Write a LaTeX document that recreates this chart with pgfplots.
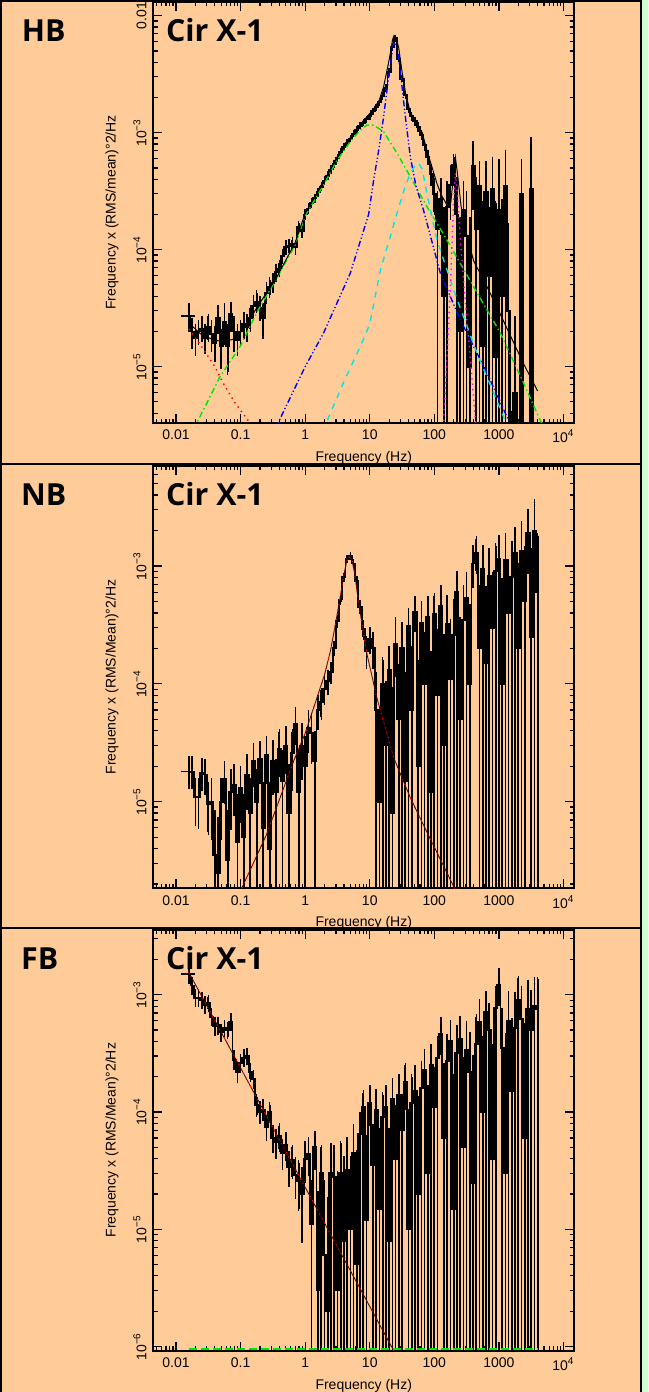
\documentclass[border=0pt]{standalone}
\usepackage{pgfplots}
\usepackage{pgfplotstable}
\pgfplotsset{compat=1.18}
\usepackage{fontspec}
\setmainfont{Liberation Sans}
\newfontfamily\titlefont{Open Sans}
\definecolor{peach}{RGB}{255,204,153}
\definecolor{pgreen}{RGB}{204,255,204}
\definecolor{cgreen}{RGB}{0,230,0}
\definecolor{ccyan}{RGB}{0,230,230}
\definecolor{cmag}{RGB}{255,0,255}

\pgfplotstableread{
f y lo hi
0.0158 2.7e-5 2.1e-5 3.3e-5
0.0178 2.0e-5 1.5e-5 2.5e-5
0.0200 1.75e-5 1.3e-5 2.2e-5
0.0224 2.0e-5 1.6e-5 2.4e-5
0.0251 2.1e-5 1.7e-5 2.6e-5
0.0282 1.75e-5 1.35e-5 2.2e-5
0.0316 2.2e-5 1.7e-5 2.7e-5
0.0355 1.9e-5 1.4e-5 2.4e-5
0.0398 1.6e-5 1.15e-5 2.1e-5
0.0447 2.6e-5 2.0e-5 3.2e-5
0.0501 1.5e-5 1.0e-5 2.0e-5
0.0562 2.4e-5 1.6e-5 3.3e-5
0.0631 1.5e-5 0.9e-5 2.2e-5
0.0708 2.8e-5 2.1e-5 3.4e-5
0.0794 2.0e-5 1.4e-5 2.6e-5
0.0891 1.7e-5 1.3e-5 2.2e-5
0.1000 2.0e-5 1.6e-5 2.4e-5
0.1122 2.3e-5 1.8e-5 2.8e-5
0.1259 2.2e-5 1.7e-5 2.7e-5
0.1413 2.6e-5 2.1e-5 3.2e-5
0.1585 3.3e-5 2.7e-5 3.9e-5
0.1778 3.6e-5 3.0e-5 4.3e-5
0.1995 3.2e-5 2.6e-5 3.8e-5
0.2239 2.6e-5 1.8e-5 3.3e-5
0.2512 4.3e-5 3.6e-5 5.0e-5
0.2818 4.8e-5 4.1e-5 5.5e-5
0.3162 5.2e-5 4.5e-5 6.0e-5
0.3548 6.4e-5 5.6e-5 7.2e-5
0.3981 6.9e-5 6.1e-5 7.7e-5
0.4467 8.8e-5 7.9e-5 9.7e-5
0.5012 1.05e-4 9.5e-5 1.15e-4
0.5623 1.08e-4 9.8e-5 1.18e-4
0.6310 1.12e-4 1.02e-4 1.22e-4
0.7079 1.05e-4 9.5e-5 1.15e-4
0.7943 1.55e-4 1.42e-4 1.68e-4
0.8913 1.45e-4 1.33e-4 1.57e-4
1.000 2.0e-4 1.88e-4 2.12e-4
1.122 2.25e-4 2.13e-4 2.37e-4
1.259 2.5e-4 2.38e-4 2.62e-4
1.413 2.75e-4 2.63e-4 2.87e-4
1.585 3.1e-4 2.98e-4 3.22e-4
1.778 3.45e-4 3.32e-4 3.58e-4
1.995 3.9e-4 3.76e-4 4.04e-4
2.239 4.3e-4 4.15e-4 4.45e-4
2.512 4.85e-4 4.7e-4 5.0e-4
2.818 5.4e-4 5.24e-4 5.56e-4
3.162 6.1e-4 5.93e-4 6.27e-4
3.548 6.8e-4 6.62e-4 6.98e-4
3.981 7.5e-4 7.3e-4 7.7e-4
4.467 8.2e-4 8.0e-4 8.4e-4
5.012 8.9e-4 8.7e-4 9.1e-4
5.623 9.8e-4 9.58e-4 1.002e-3
6.310 1.06e-3 1.035e-3 1.085e-3
7.079 1.15e-3 1.125e-3 1.175e-3
7.943 1.22e-3 1.195e-3 1.245e-3
8.913 1.30e-3 1.27e-3 1.33e-3
10.00 1.38e-3 1.35e-3 1.41e-3
11.22 1.52e-3 1.49e-3 1.55e-3
12.59 1.65e-3 1.62e-3 1.68e-3
14.13 1.82e-3 1.78e-3 1.86e-3
15.85 2.05e-3 2.0e-3 2.1e-3
17.78 2.4e-3 2.34e-3 2.46e-3
19.95 3.3e-3 3.22e-3 3.38e-3
22.39 5.4e-3 5.28e-3 5.52e-3
25.12 6.4e-3 6.25e-3 6.55e-3
28.18 4.3e-3 4.2e-3 4.4e-3
31.62 2.9e-3 2.83e-3 2.97e-3
35.48 2.1e-3 2.04e-3 2.16e-3
39.81 1.6e-3 1.55e-3 1.65e-3
44.67 1.38e-3 1.33e-3 1.43e-3
50.12 1.25e-3 1.2e-3 1.3e-3
56.23 1.12e-3 1.07e-3 1.17e-3
63.10 9.6e-4 9.1e-4 1.01e-3
70.79 7.8e-4 7.3e-4 8.3e-4
79.43 6.2e-4 5.6e-4 6.8e-4
89.13 4.4e-4 3.7e-4 5.1e-4
100.0 3.0e-4 2.1e-4 3.9e-4
112.2 1.5e-4 1e-8 3.0e-4
125.9 2.7e-4 1.4e-4 3.9e-4
141.3 4.0e-5 1e-8 2.2e-4
158.5 2.3e-4 1e-8 3.7e-4
177.8 3.6e-4 1.9e-4 5.0e-4
199.5 5.3e-4 3.7e-4 6.2e-4
223.9 2.0e-4 1e-8 4.0e-4
251.2 2.0e-5 1e-8 1.8e-4
281.8 2.2e-4 1e-8 3.7e-4
316.2 1.3e-4 1e-8 3.0e-4
354.8 1.0e-5 1e-8 1.8e-4
398.1 5.2e-4 2.3e-4 8.0e-4
446.7 1.5e-4 1e-8 4.0e-4
501.2 3.5e-4 1e-8 5.4e-4
562.3 1.5e-5 1e-8 2.5e-4
631.0 3.1e-4 1e-8 5.4e-4
707.9 6.0e-5 1e-8 2.2e-4
794.3 3.3e-4 1e-8 5.9e-4
891.3 1.2e-5 1e-8 2.5e-4
1000 2.2e-4 1e-8 5.7e-4
1122 4.0e-5 1e-8 2.6e-4
1259 3.5e-4 1e-8 6.8e-4
1413 3.0e-5 1e-8 1.6e-4
1585 1e-7 1e-8 4e-6
1778 6e-6 1e-8 2.6e-5
1995 1e-7 1e-8 2e-6
2239 3.0e-4 1e-8 5.7e-4
2512 1e-7 1e-8 2e-6
2818 1e-7 1e-8 2e-6
3162 3.3e-4 1e-8 8.8e-4
3548 1e-7 1e-8 2e-6
3981 1e-7 1e-8 2e-6
}\hbdata

\pgfplotstableread{
f y lo hi
0.0158 1.8e-5 1.34e-5 2.3e-5
0.0178 1.8e-5 1.34e-5 2.3e-5
0.0200 1.1e-5 6.5e-6 1.5e-5
0.0224 1.1e-5 6.2e-6 1.5e-5
0.0251 1.75e-5 1.3e-5 2.25e-5
0.0282 1.7e-5 1.2e-5 2.2e-5
0.0316 9.5e-6 5.5e-6 1.4e-5
0.0355 1.0e-5 5e-6 1.5e-5
0.0398 3.5e-6 1e-8 8e-6
0.0447 2.5e-6 1e-8 7e-6
0.0501 1.0e-5 5e-6 1.5e-5
0.0562 1.55e-5 1.0e-5 2.1e-5
0.0631 3.2e-6 1e-8 8e-6
0.0708 1.2e-5 6e-6 1.8e-5
0.0794 1.4e-5 8e-6 2.0e-5
0.0891 4.5e-6 1e-8 1.1e-5
0.1000 1.3e-5 7e-6 1.9e-5
0.1122 5e-6 1e-8 1.1e-5
0.1259 1.7e-5 9e-6 2.4e-5
0.1413 8e-6 1e-8 1.5e-5
0.1585 2.2e-5 1.4e-5 3.0e-5
0.1778 1.0e-5 1e-8 1.8e-5
0.1995 2.3e-5 1.5e-5 3.1e-5
0.2239 6e-6 1e-8 1.4e-5
0.2512 2.5e-5 1.5e-5 3.4e-5
0.2818 4e-6 1e-8 1.4e-5
0.3162 2.2e-5 1.2e-5 3.2e-5
0.3548 1.2e-5 1e-8 2.2e-5
0.3981 2.8e-5 1.7e-5 3.9e-5
0.4467 1.5e-5 1e-8 2.6e-5
0.5012 3.0e-5 1.8e-5 4.2e-5
0.5623 8e-6 1e-8 2.0e-5
0.6310 2.6e-5 1.3e-5 3.9e-5
0.7079 4.6e-5 3.2e-5 6.0e-5
0.7943 1.2e-5 1e-8 2.6e-5
0.8913 3.0e-5 1.6e-5 4.4e-5
1.000 2.0e-5 1e-8 3.4e-5
1.122 4.2e-5 2.7e-5 5.7e-5
1.259 3.8e-5 2.2e-5 5.4e-5
1.413 2.2e-5 1e-8 3.8e-5
1.585 6.0e-5 4.3e-5 7.7e-5
1.778 7.0e-5 5.2e-5 8.8e-5
1.995 9.0e-5 7.0e-5 1.1e-4
2.239 1.05e-4 8.5e-5 1.25e-4
2.512 1.25e-4 1.05e-4 1.45e-4
2.818 2.0e-4 1.8e-4 2.2e-4
3.162 3.4e-4 3.15e-4 3.65e-4
3.548 5.2e-4 4.95e-4 5.45e-4
3.981 8.0e-4 7.7e-4 8.3e-4
4.467 1.15e-3 1.11e-3 1.19e-3
5.012 1.22e-3 1.18e-3 1.26e-3
5.623 1.05e-3 1.01e-3 1.09e-3
6.310 7.4e-4 7.0e-4 7.8e-4
7.079 4.5e-4 4.1e-4 4.9e-4
7.943 2.9e-4 2.5e-4 3.3e-4
8.913 1.9e-4 1.4e-4 2.4e-4
10.00 2.4e-4 1.9e-4 2.9e-4
11.22 2.0e-4 1.4e-4 2.6e-4
12.59 6e-5 1e-8 1.2e-4
14.13 1.0e-5 1e-8 6e-5
15.85 1.0e-4 1e-8 1.6e-4
17.78 3.0e-5 1e-8 1.0e-4
19.95 1.3e-4 1e-8 2.0e-4
22.39 8e-6 1e-8 9e-5
25.12 2.2e-4 1.2e-4 3.5e-4
28.18 5e-5 1e-8 1.4e-4
31.62 2.0e-4 1e-8 3.2e-4
35.48 1.5e-5 1e-8 1.2e-4
39.81 3.1e-4 1e-8 4.2e-4
44.67 6e-5 1e-8 2.0e-4
50.12 4.1e-4 2.9e-4 5.3e-4
56.23 2.0e-5 1e-8 1.5e-4
63.10 3.3e-4 1e-8 4.8e-4
70.79 1.0e-4 1e-8 2.6e-4
79.43 3.7e-4 1e-8 5.3e-4
89.13 1.2e-5 1e-8 1.8e-4
100.0 3.9e-4 1e-8 5.6e-4
112.2 8e-5 1e-8 2.8e-4
125.9 4.6e-4 1e-8 6.5e-4
141.3 3e-5 1e-8 2.5e-4
158.5 3.2e-4 1e-8 5.4e-4
177.8 1.1e-4 1e-8 3.4e-4
199.5 2.6e-4 1e-8 5.0e-4
223.9 6.0e-4 1e-8 8.6e-4
251.2 5e-5 1e-8 3.5e-4
281.8 3.5e-4 1e-8 6.5e-4
316.2 5.4e-4 1e-8 8.5e-4
354.8 1.0e-4 1e-8 4.5e-4
398.1 1.05e-3 6.8e-4 1.42e-3
446.7 1.3e-3 9.0e-4 1.7e-3
501.2 2.0e-4 1e-8 6.5e-4
562.3 9.5e-4 1e-8 1.42e-3
631.0 1.5e-4 1e-8 6.4e-4
707.9 8.2e-4 1e-8 1.34e-3
794.3 3.0e-4 1e-8 8.5e-4
891.3 9.0e-4 1e-8 1.48e-3
1000 1.15e-3 1e-8 1.75e-3
1122 1.0e-4 1e-8 7.5e-4
1259 1.12e-3 1e-8 1.8e-3
1413 4.0e-4 1e-8 1.1e-3
1585 8.0e-4 1e-8 1.55e-3
1778 1.3e-3 1e-8 2.05e-3
1995 2.0e-4 1e-8 1.0e-3
2239 1.35e-3 1e-8 2.3e-3
2512 5.0e-4 1e-8 1.4e-3
2818 1.9e-3 9.0e-4 2.9e-3
3162 2.5e-4 1e-8 1.35e-3
3548 2.0e-3 1e-8 3.5e-3
3981 6.0e-4 1e-8 1.8e-3
}\nbdata

\pgfplotstableread{
f y lo hi
0.0158 1.5e-3 1.3e-3 1.7e-3
0.0178 1.2e-3 1.05e-3 1.35e-3
0.0200 9.4e-4 8.2e-4 1.06e-3
0.0224 9.4e-4 8.2e-4 1.06e-3
0.0251 9.0e-4 7.9e-4 1.01e-3
0.0282 8.2e-4 7.2e-4 9.2e-4
0.0316 8.5e-4 7.5e-4 9.5e-4
0.0355 6.5e-4 5.7e-4 7.3e-4
0.0398 5.4e-4 4.7e-4 6.1e-4
0.0447 5.5e-4 4.8e-4 6.2e-4
0.0501 4.8e-4 4.2e-4 5.4e-4
0.0562 5.2e-4 4.6e-4 5.8e-4
0.0631 5.0e-4 4.4e-4 5.6e-4
0.0708 5.9e-4 5.2e-4 6.6e-4
0.0794 2.8e-4 2.4e-4 3.2e-4
0.0891 2.2e-4 1.85e-4 2.55e-4
0.1000 2.6e-4 2.25e-4 2.95e-4
0.1122 2.9e-4 2.55e-4 3.25e-4
0.1259 3.0e-4 2.65e-4 3.35e-4
0.1413 2.2e-4 1.9e-4 2.5e-4
0.1585 1.9e-4 1.65e-4 2.15e-4
0.1778 1.15e-4 9.5e-5 1.35e-4
0.1995 1.0e-4 8.3e-5 1.17e-4
0.2239 1.05e-4 8.8e-5 1.22e-4
0.2512 7.5e-5 6.0e-5 9.0e-5
0.2818 1.0e-4 8.5e-5 1.15e-4
0.3162 6.0e-5 4.7e-5 7.3e-5
0.3548 5.5e-5 4.2e-5 6.8e-5
0.3981 6.2e-5 4.8e-5 7.6e-5
0.4467 4.5e-5 3.4e-5 5.6e-5
0.5012 5.2e-5 4.0e-5 6.4e-5
0.5623 3.4e-5 2.4e-5 4.4e-5
0.6310 3.9e-5 2.8e-5 5.0e-5
0.7079 2.9e-5 1.9e-5 3.9e-5
0.7943 2.6e-5 1.5e-5 3.7e-5
0.8913 2.0e-5 8e-6 3.2e-5
1.000 4.0e-5 2.6e-5 5.4e-5
1.122 4.4e-5 3.0e-5 5.8e-5
1.259 1.1e-5 1e-8 2.5e-5
1.413 5.0e-5 3.4e-5 6.6e-5
1.585 3.0e-6 1e-8 2.0e-5
1.778 3.0e-5 1e-8 5.0e-5
1.995 6e-6 1e-8 2.5e-5
2.239 2.0e-6 1e-8 1.8e-5
2.512 3.0e-5 1e-8 5.2e-5
2.818 2.8e-5 1e-8 5.0e-5
3.162 3.0e-6 1e-8 3.0e-5
3.548 3.0e-5 1e-8 5.4e-5
3.981 8.0e-6 1e-8 4.0e-5
4.467 3.2e-5 1e-8 5.8e-5
5.012 1.0e-5 1e-8 4.0e-5
5.623 4.5e-5 1e-8 7.5e-5
6.310 5.0e-6 1e-8 4.5e-5
7.079 6.5e-5 1e-8 9.5e-5
7.943 1.1e-4 1e-8 1.45e-4
8.913 1.2e-5 1e-8 6.0e-5
10.00 1.2e-4 8.0e-5 1.6e-4
11.22 3.5e-5 1e-8 7.5e-5
12.59 1.05e-4 1e-8 1.5e-4
14.13 1.5e-5 1e-8 7.0e-5
15.85 9.0e-5 1e-8 1.4e-4
17.78 1.1e-4 1e-8 1.6e-4
19.95 8.0e-6 1e-8 7.0e-5
22.39 1.3e-4 1e-8 1.85e-4
25.12 4.0e-5 1e-8 1.1e-4
28.18 1.4e-4 1e-8 2.0e-4
31.62 7.0e-5 1e-8 1.35e-4
35.48 1.8e-4 1.1e-4 2.5e-4
39.81 1.0e-5 1e-8 1.0e-4
44.67 1.2e-4 1e-8 2.0e-4
50.12 1.5e-4 1e-8 2.4e-4
56.23 2.0e-5 1e-8 1.3e-4
63.10 1.6e-4 1e-8 2.6e-4
70.79 2.3e-4 1e-8 3.3e-4
79.43 3.0e-5 1e-8 1.6e-4
89.13 2.5e-4 1e-8 3.6e-4
100.0 1.1e-4 1e-8 2.3e-4
112.2 2.9e-4 1e-8 4.2e-4
125.9 4.6e-4 3.2e-4 6.2e-4
141.3 6.0e-5 1e-8 2.5e-4
158.5 2.7e-4 1e-8 4.4e-4
177.8 4.0e-4 1e-8 5.8e-4
199.5 1.5e-5 1e-8 2.0e-4
223.9 3.2e-4 1e-8 5.2e-4
251.2 4.2e-4 1e-8 6.3e-4
281.8 5.0e-5 1e-8 2.8e-4
316.2 3.4e-4 1e-8 5.7e-4
354.8 2.2e-4 1e-8 4.6e-4
398.1 2.5e-5 1e-8 2.9e-4
446.7 3.8e-4 1e-8 6.5e-4
501.2 5.9e-4 1e-8 8.7e-4
562.3 1.0e-4 1e-8 4.2e-4
631.0 7.2e-4 1e-8 1.02e-3
707.9 5.0e-4 1e-8 8.1e-4
794.3 4.0e-5 1e-8 3.6e-4
891.3 7.7e-4 1e-8 1.12e-3
1000 1.22e-3 8.5e-4 1.6e-3
1122 3.5e-4 1e-8 7.3e-4
1259 3.0e-5 1e-8 4.5e-4
1413 6.0e-4 1e-8 1.02e-3
1585 1.5e-4 1e-8 6.0e-4
1778 5.2e-4 1e-8 1.0e-3
1995 9.0e-4 1e-8 1.38e-3
2239 6.2e-4 1e-8 1.12e-3
2512 6.0e-5 1e-8 5.5e-4
2818 7.5e-4 1e-8 1.28e-3
3162 5.0e-4 1e-8 1.05e-3
3548 8.0e-4 1e-8 1.35e-3
3981 7.5e-4 1e-8 1.35e-3
}\fbdata

\pgfplotsset{
  /pgfplots/myax/.style={
    scale only axis,
    width=210.25pt, anchor=south west,
    xmin=0.00448, xmax=14550,
    axis line style={line width=1pt},
    every tick/.style={black, line width=0.6pt},
    major tick length=4.5pt, minor tick length=2.2pt,
    tick align=inside,
    xtick={0.01,0.1,1,10,100,1000,10000},
    xticklabels={0.01,0.1,1,10,100,1000,10\textsuperscript{4}},
    minor xtick={0.005,0.006,0.007,0.008,0.009,0.02,0.03,0.04,0.05,0.06,0.07,0.08,0.09,0.2,0.3,0.4,0.5,0.6,0.7,0.8,0.9,2,3,4,5,6,7,8,9,20,30,40,50,60,70,80,90,200,300,400,500,600,700,800,900,2000,3000,4000,5000,6000,7000,8000,9000},
    minor ytick={2e-7,3e-7,4e-7,5e-7,6e-7,7e-7,8e-7,9e-7,2e-6,3e-6,4e-6,5e-6,6e-6,7e-6,8e-6,9e-6,2e-5,3e-5,4e-5,5e-5,6e-5,7e-5,8e-5,9e-5,2e-4,3e-4,4e-4,5e-4,6e-4,7e-4,8e-4,9e-4,2e-3,3e-3,4e-3,5e-3,6e-3,7e-3,8e-3,9e-3},
    ticklabel style={font=\fontsize{7}{8}\selectfont},
    label style={font=\fontsize{7}{8}\selectfont},
    yticklabel style={rotate=90, anchor=south},
    xlabel={Frequency (Hz)},
    xlabel style={at={(axis description cs:0.5,-0.083)}, anchor=center},
    ylabel style={at={(axis description cs:-0.0987,0.5)}, anchor=center},
  },
  /pgfplots/mydata/.style={const plot mark mid, black, line width=0.95pt, mark=none,
    error bars/y dir=both, error bars/y explicit,
    error bars/error bar style={line width=0.85pt, black},
    error bars/error mark options={mark size=1.3pt, line width=0.75pt, black}},
  /pgfplots/mycross/.style={draw=none, mark=none, error bars/x dir=both, error bars/x explicit,
    error bars/error bar style={line width=0.8pt, black}, error bars/error mark=none},
}

\newcommand{\tfont}{\titlefont\bfseries\fontsize{15.2}{16}\selectfont}

\begin{document}
\begin{tikzpicture}[x=1pt,y=1pt]
\useasboundingbox (0,0) rectangle (324,696);
\fill[peach] (0,0) rectangle (324,696);
\fill[pgreen] (320.5,0) rectangle (324,696);

% ---------- HB ----------
\begin{scope}
\clip (0,464) rectangle (320.5,696);
\begin{loglogaxis}[myax, at={(76.75pt,484.5pt)}, height=210.5pt,
  ymin=3.3e-6, ymax=1.31e-2,
  ytick={1e-5,1e-4,1e-3,1e-2},
  yticklabels={10\textsuperscript{−5},10\textsuperscript{−4},10\textsuperscript{−3},0.01},
  ylabel={Frequency x (RMS/mean)°2/Hz}]
\addplot[mydata] table[x=f, y=y, y error plus expr=\thisrow{hi}-\thisrow{y}, y error minus expr=\thisrow{y}-\thisrow{lo}] {\hbdata};
\addplot[mycross] coordinates {(0.0158,2.7e-5) +- (0.0038,0)};
\addplot[red, dotted, line width=0.7pt] coordinates {(0.0158,2.1e-5) (0.025,1.48e-5) (0.04,1.0e-5) (0.054,7.2e-6) (0.08,5.0e-6) (0.124,3.6e-6) (0.14,3.3e-6) (0.2,2.5e-6)};
\addplot[cgreen, line width=0.7pt, dash pattern=on 3pt off 1.5pt on 0.7pt off 1.5pt] coordinates {(0.015,2.3e-6) (0.021,3.3e-6) (0.048,8.2e-6) (0.098,1.48e-5) (0.178,2.9e-5) (0.35,5.5e-5) (0.7,1.1e-4) (1,1.95e-4) (2,3.7e-4) (3,5.6e-4) (5,8.4e-4) (7,1.04e-3) (9,1.16e-3) (11.5,1.16e-3) (16.4,1.02e-3) (26.4,6.7e-4) (42.5,4.2e-4) (77,2.33e-4) (157,1.21e-4) (407,4.8e-5) (1054,1.94e-5) (2427,7.2e-6) (4143,3.7e-6) (5000,3e-6)};
\addplot[blue, line width=0.7pt, dash pattern=on 3pt off 1.2pt on 0.6pt off 1.2pt on 0.6pt off 1.2pt] coordinates {(0.35,2.8e-6) (0.41,3.6e-6) (1.0,1.0e-5) (1.92,1.93e-5) (5.0,6.3e-5) (9.6,2.0e-4) (11.5,3.95e-4) (14,7.5e-4) (16.4,1.37e-3) (19,2.6e-3) (20.8,3.7e-3) (22.5,5.2e-3) (23.8,5.8e-3) (25.5,5.6e-3) (28,4.5e-3) (31.6,2.47e-3) (36,1.3e-3) (42.5,6.2e-4) (52,3.5e-4) (68,2.18e-4) (124,6.3e-5) (253,2.5e-5) (656,8.8e-6) (1340,3.7e-6) (1600,3e-6)};
\addplot[ccyan, line width=0.7pt, dash pattern=on 3pt off 3pt] coordinates {(1.9,2.8e-6) (2.17,3.4e-6) (4,7.5e-6) (7.1,1.48e-5) (10,2.3e-5) (14.6,6.7e-5) (20,1.2e-4) (26.4,2.05e-4) (35,3.4e-4) (42.5,4.5e-4) (52,5.4e-4) (57,5.5e-4) (65,4.9e-4) (77,3.0e-4) (110,1.21e-4) (200,4.5e-5) (459,1.3e-5) (1187,3.7e-6) (1400,3e-6)};
\addplot[cmag, dotted, line width=0.7pt] coordinates {(130,2.5e-6) (140,3.5e-6) (160,1.5e-5) (180,6e-5) (198,2.5e-4) (212,4.5e-4) (228,3e-4) (260,1e-4) (310,3e-5) (370,1e-5) (432,3.5e-6) (460,2.5e-6)};
\addplot[black, line width=0.5pt] coordinates {(0.0158,2.36e-5) (0.025,1.87e-5) (0.04,1.68e-5) (0.054,1.64e-5) (0.08,1.72e-5) (0.124,2.26e-5) (0.178,3.2e-5) (0.35,5.6e-5) (0.7,1.15e-4) (1,2.05e-4) (2,3.95e-4) (3,6.0e-4) (5,9.1e-4) (7,1.17e-3) (9,1.36e-3) (11.5,1.6e-3) (14,1.89e-3) (16.4,2.47e-3) (19,3.66e-3) (20.8,4.73e-3) (22.5,6.2e-3) (23.8,6.78e-3) (25.5,6.54e-3) (28,5.37e-3) (31.6,3.33e-3) (36,2.15e-3) (42.5,1.49e-3) (52,1.24e-3) (65,1.0e-3) (77,7.0e-4) (95,4.8e-4) (110,3.66e-4) (130,2.9e-4) (160,2.37e-4) (180,2.54e-4) (198,4.27e-4) (212,6.15e-4) (228,4.5e-4) (260,2.34e-4) (310,1.41e-4) (407,8e-5) (656,4.8e-5) (1054,2.8e-5) (2427,1.05e-5) (3981,6.2e-6)};
\end{loglogaxis}
\end{scope}

% ---------- NB ----------
\begin{scope}
\clip (0,232) rectangle (320.5,464);
\begin{loglogaxis}[myax, at={(76.75pt,251.85pt)}, height=211.15pt,
  ymin=1.84e-6, ymax=7.06e-3,
  ytick={1e-5,1e-4,1e-3},
  yticklabels={10\textsuperscript{−5},10\textsuperscript{−4},10\textsuperscript{−3}},
  ylabel={Frequency x (RMS/Mean)°2/Hz}]
\addplot[mydata] table[x=f, y=y, y error plus expr=\thisrow{hi}-\thisrow{y}, y error minus expr=\thisrow{y}-\thisrow{lo}] {\nbdata};
\addplot[mycross] coordinates {(0.0158,1.8e-5) +- (0.0038,0)};
\addplot[black!75!red, line width=0.4pt] coordinates {(0.09,1.4e-6) (0.104,1.84e-6) (0.25,5.2e-6) (0.66,2.2e-5) (1.0,3.8e-5) (1.52,7.6e-5) (2.0,1.2e-4) (2.45,1.88e-4) (3.0,3.4e-4) (3.5,5.5e-4) (3.97,8.4e-4) (4.4,1.1e-3) (4.8,1.2e-3) (5.3,1.13e-3) (5.9,8.4e-4) (6.6,5.2e-4) (7.9,2.8e-4) (9.1,1.77e-4) (12.9,7.6e-5) (23.5,2.36e-5) (42.5,1.08e-5) (77,5.5e-6) (200,1.9e-6) (250,1.5e-6)};
\addplot[red, dotted, line width=0.5pt] coordinates {(0.09,1.4e-6) (0.104,1.84e-6) (0.25,5.2e-6) (0.66,2.2e-5) (1.0,3.8e-5) (1.52,7.6e-5) (2.0,1.2e-4) (2.45,1.88e-4) (3.0,3.4e-4) (3.5,5.5e-4) (3.97,8.4e-4) (4.4,1.1e-3) (4.8,1.2e-3) (5.3,1.13e-3) (5.9,8.4e-4) (6.6,5.2e-4) (7.9,2.8e-4) (9.1,1.77e-4) (12.9,7.6e-5) (23.5,2.36e-5) (42.5,1.08e-5) (77,5.5e-6) (200,1.9e-6) (250,1.5e-6)};
\end{loglogaxis}
\end{scope}

% ---------- FB ----------
\begin{scope}
\clip (0,0) rectangle (320.5,232);
\begin{loglogaxis}[myax, at={(76.75pt,20.65pt)}, height=210.5pt,
  ymin=9.2e-7, ymax=3.59e-3,
  ytick={1e-6,1e-5,1e-4,1e-3},
  yticklabels={10\textsuperscript{−6},10\textsuperscript{−5},10\textsuperscript{−4},10\textsuperscript{−3}},
  ylabel={Frequency x (RMS/Mean)°2/Hz}]
\addplot[mydata] table[x=f, y=y, y error plus expr=\thisrow{hi}-\thisrow{y}, y error minus expr=\thisrow{y}-\thisrow{lo}] {\fbdata};
\addplot[mycross] coordinates {(0.0158,1.5e-3) +- (0.0038,0)};
\addplot[black!75!red, line width=0.4pt] coordinates {(0.0156,1.57e-3) (1,2.28e-5) (25,8.64e-7)};
\addplot[red, dotted, line width=0.5pt] coordinates {(0.0156,1.57e-3) (1,2.28e-5) (25,8.64e-7)};
\addplot[cgreen, line width=1.3pt, dash pattern=on 4pt off 2pt] coordinates {(0.0158,9.5e-7) (4000,9.5e-7)};
\end{loglogaxis}
\end{scope}

% panel labels
\node[anchor=base west, inner sep=0pt, font=\tfont] at (10.75,675.15) {HB};
\node[anchor=base west, inner sep=0pt, font=\tfont] at (82.85,675.15) {Cir X-1};
\node[anchor=base west, inner sep=0pt, font=\tfont] at (10.4,443.15) {NB};
\node[anchor=base west, inner sep=0pt, font=\tfont] at (82.85,443.15) {Cir X-1};
\node[anchor=base west, inner sep=0pt, font=\tfont] at (10.4,211) {FB};
\node[anchor=base west, inner sep=0pt, font=\tfont] at (82.85,211) {Cir X-1};

% borders
\draw[line width=1pt] (0.5,0) -- (0.5,695.5) -- (320.5,695.5) -- (320.5,0);
\draw[line width=1pt] (0,464) -- (320.5,464);
\draw[line width=1pt] (0,232) -- (320.5,232);
\end{tikzpicture}
\end{document}
